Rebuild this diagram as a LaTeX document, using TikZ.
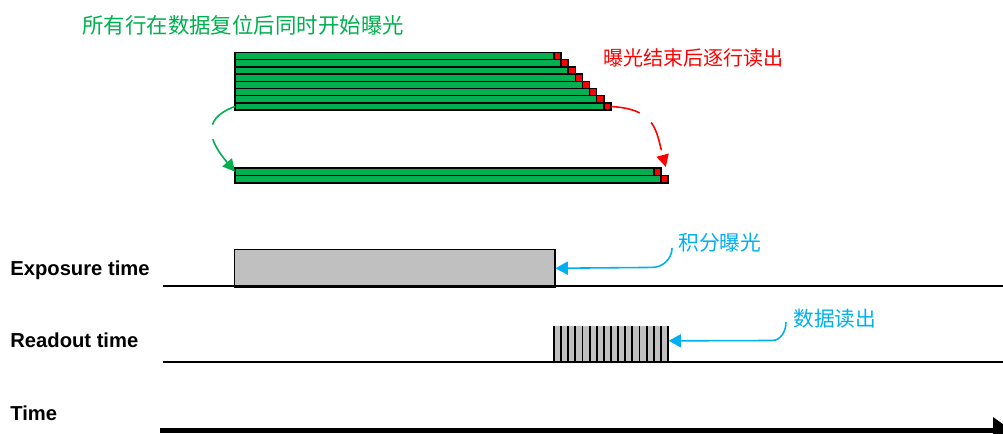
\documentclass[tikz,border=0pt]{standalone}
\usepackage{fontspec}
\setmainfont{Liberation Sans}
\newfontfamily\cjk{Noto Sans CJK SC}
\usetikzlibrary{arrows.meta}

\definecolor{barGreen}{RGB}{0,176,80}
\definecolor{hiRed}{RGB}{255,0,0}
\definecolor{noteBlue}{RGB}{0,176,240}
\definecolor{boxGray}{RGB}{192,192,192}

\begin{document}
\begin{tikzpicture}[x=0.02cm, y=-0.02cm,
  bar/.style={draw, line width=0.9pt, fill=barGreen, inner sep=0, outer sep=0, anchor=north west, minimum height=7.2*0.02cm},
  sq/.style={draw, line width=0.9pt, fill=hiRed, inner sep=0, outer sep=0, anchor=north west, minimum width=7.1*0.02cm, minimum height=7.2*0.02cm},
  flow/.style={line width=0.9pt, dash pattern=on 17pt off 8.5pt, -{Triangle[length=7pt, width=7pt]}},
  callout/.style={noteBlue, line width=0.9pt, -{Triangle[length=7pt, width=7.5pt]}},
  note/.style={anchor=west, inner sep=0, font=\cjk\fontsize{11.6}{14}\selectfont},
  tlbl/.style={anchor=base west, inner sep=0, font=\bfseries\fontsize{11.5}{13}\selectfont},
  axisline/.style={line width=0.85pt}
]
\useasboundingbox (0,0) rectangle (1003,433);

% rows reset together, read out one after another
\foreach \i in {0,...,7}{
  \node[bar, minimum width={(319+7.1*\i)*0.02cm}] (row\i) at (235,{52.5+7.2*\i}) {};
  \node[sq] (end\i) at (row\i.north east) {};
}
\foreach \j in {0,1}{
  \node[bar, minimum height=7.5*0.02cm, minimum width={(419+7*\j)*0.02cm}] (low\j) at (235,{168+7.5*\j}) {};
  \node[sq, minimum height=7.5*0.02cm] (lowend\j) at (low\j.north east) {};
}

\node[note, barGreen, font=\cjk\fontsize{12.2}{14}\selectfont] (startnote) at (82,25) {所有行在数据复位后同时开始曝光};
\node[note, hiRed, font=\cjk\fontsize{11.4}{14}\selectfont] (readnote) at (603,58) {曝光结束后逐行读出};

\draw[flow, barGreen] (row7.west) to[out=200, in=130, looseness=1.5] (low0.west);
\draw[flow, hiRed, shorten >=5pt] (end7.east) to[out=-3, in=105, looseness=1.3] ([xshift=2pt]lowend1.north);

% timing lines
\node[tlbl] (explbl) at (10,275) {Exposure time};
\node[tlbl] (rdlbl) at (10,347) {Readout time};
\node[tlbl] (timelbl) at (10,420) {Time};

\node[draw, line width=0.85pt, fill=boxGray, inner sep=0, anchor=north west, minimum width=320*0.02cm, minimum height=37*0.02cm] (expbox) at (234,249) {};
\node[fill=boxGray, inner sep=0, anchor=north west, minimum width=114*0.02cm, minimum height=36*0.02cm] (rdbox) at (554,326) {};
\foreach \k in {0,...,16}
  \draw[line width=1.1pt] ({554+7.125*\k},326) -- ({554+7.125*\k},362);

\draw[axisline] (163,286) -- (1003,286);
\draw[axisline] (163,362) -- (1003,362);
\draw[line width=2.3pt, -{Triangle[length=10.8pt, width=14.7pt]}] (160,430.5) -- (1012,430.5);

\node[note, noteBlue, font=\cjk\fontsize{11.8}{14}\selectfont] (intnote) at (678,243) {积分曝光};
\node[note, noteBlue, font=\cjk\fontsize{11.8}{14}\selectfont] (outnote) at (793,319) {数据读出};

\draw[callout] ([xshift=-3.4pt, yshift=-2.8pt]intnote.west) to[out=-90, in=0] ++(-20,19.5) -- (expbox.east);
\draw[callout] ([xshift=-4pt, yshift=-1.7pt]outnote.west) to[out=-90, in=0] ++(-14,18.5) -- ([yshift=2pt]rdbox.east);
\end{tikzpicture}
\end{document}
